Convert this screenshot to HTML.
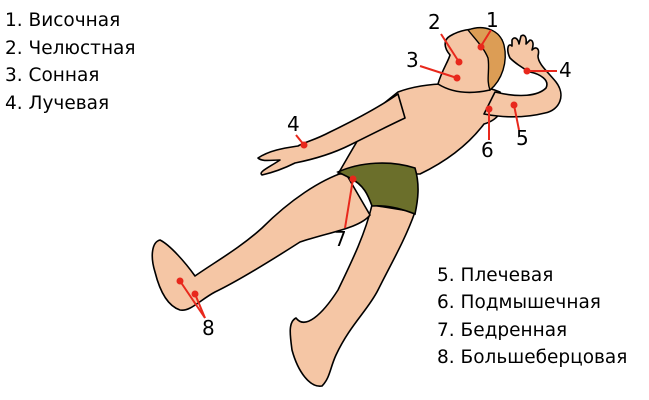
<!DOCTYPE html>
<html><head><meta charset="utf-8"><style>
html,body{margin:0;padding:0;background:#fff;width:649px;height:400px;overflow:hidden}
svg{display:block}
text{font-family:"DejaVu Sans","Liberation Sans",sans-serif;fill:#000}
</style></head><body>
<svg width="649" height="400" viewBox="0 0 649 400" xmlns="http://www.w3.org/2000/svg">
<g stroke="#000" stroke-width="1.6" stroke-linejoin="round" fill="#f5c6a5">
<!-- right leg -->
<path d="M372,205 C365,235 350,265 338,290 C322,315 305,330 296,318 C288,322 290,335 292,350 C298,372 310,388 322,386 C330,378 330,368 336,355 C350,325 368,310 378,290 C392,262 405,240 415,212 Z"/>
<!-- left leg -->
<path d="M345,172 C320,180 290,200 262,228 C240,248 215,262 195,276 C185,262 170,245 160,240 C152,242 150,256 155,272 C160,292 168,306 180,310 C190,312 200,300 215,292 C240,280 275,258 300,242 C330,232 360,228 370,215 Z"/>
<!-- torso -->
<path d="M398,92 C425,82 470,80 500,92 C508,108 498,120 484,124 C468,145 445,162 420,174 L338,174 C352,150 366,125 378,108 Z"/>
<!-- left arm -->
<path d="M398,94 C378,108 355,120 330,132 C315,140 305,142 298,146 C285,148 270,150 258,158 C262,162 272,160 280,160 C268,168 258,172 262,175 C275,172 285,168 295,163 C310,160 330,155 350,145 C370,135 390,125 405,118 Z"/>
<!-- right arm -->
<path d="M495,92 C520,98 538,96 546,88 C550,80 540,74 530,72 C522,68 514,62 510,58 C506,50 508,42 512,46 L512,40 C514,36 518,38 519,44 L521,36 C524,34 527,36 526,44 L530,40 C533,40 534,44 532,50 C536,46 540,48 538,56 C538,64 548,72 556,82 C566,95 560,110 545,113 C525,118 505,118 484,114 Z"/>
<!-- neck & head -->
<path d="M438,84 C442,70 448,62 450,55 C444,48 443,40 450,36 C460,30 472,28 480,30 L502,40 C504,60 500,80 490,90 C472,94 454,94 438,84 Z"/>
</g>
<path d="M468,30 C484,24 500,30 504,45 C508,62 502,80 490,90 C486,80 490,70 488,58 C484,48 476,40 468,30 Z" fill="#dc9d55" stroke="#000" stroke-width="1.4"/>
<!-- shorts -->
<path d="M338,172 C360,162 390,160 415,168 C420,185 418,200 415,214 C400,208 385,205 372,206 C368,195 364,185 350,178 Z" fill="#6b6f2b" stroke="#000" stroke-width="1.6"/>
<!-- red markers -->
<g stroke="#e8281c" stroke-width="2" fill="none">
<path d="M491,30 L481,46"/><path d="M441,34 L459,62"/><path d="M420,66 L457,78"/>
<path d="M557,71 L527,71"/><path d="M296,135 L304,145"/><path d="M519,130 L514,105"/>
<path d="M489,140 L489,109"/><path d="M345,228 L353,179"/>
<path d="M205,318 L180,281"/><path d="M205,318 L195,294"/>
</g>
<g fill="#e8281c">
<circle cx="481" cy="47" r="3.5"/><circle cx="459" cy="62" r="3.5"/><circle cx="457" cy="78" r="3.5"/>
<circle cx="527" cy="71" r="3.5"/><circle cx="514" cy="105" r="3.5"/><circle cx="489" cy="109" r="3.5"/>
<circle cx="304" cy="145" r="3.5"/><circle cx="353" cy="179" r="3.5"/><circle cx="180" cy="281" r="3.5"/><circle cx="195" cy="294" r="3.5"/>
</g>
<g font-size="20">
<text x="486" y="27">1</text><text x="428" y="29">2</text><text x="406" y="67">3</text>
<text x="559" y="77">4</text><text x="287" y="131">4</text><text x="516" y="145">5</text>
<text x="481" y="157">6</text><text x="334" y="246">7</text><text x="202" y="335">8</text>
</g>
<g font-size="18.5">
<text x="5" y="26">1. Височная</text><text x="5" y="54">2. Челюстная</text>
<text x="5" y="81">3. Сонная</text><text x="5" y="109">4. Лучевая</text>
<text x="437" y="281">5. Плечевая</text><text x="437" y="308">6. Подмышечная</text>
<text x="437" y="336">7. Бедренная</text><text x="437" y="363">8. Большеберцовая</text>
</g>
</svg>
</body></html>
